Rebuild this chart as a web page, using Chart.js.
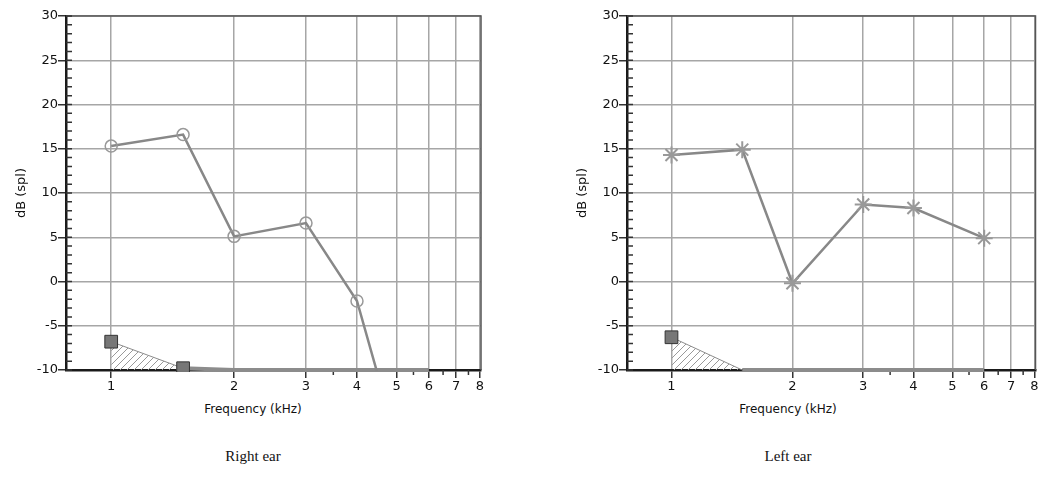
<!DOCTYPE html>
<html>
<head>
<meta charset="utf-8">
<script src="https://cdn.jsdelivr.net/npm/chart.js@4"></script>
<style>
  body { margin: 0; background: #fff; width: 1046px; height: 477px; overflow: hidden; position: relative; }
  .panel { position: absolute; top: 0; height: 400px; }
  .xtitle { position: absolute; top: 402px; font: 12px "DejaVu Sans", sans-serif; color: #111; transform: translateX(-50%); white-space: nowrap; }
  .caption { position: absolute; top: 448px; font: 15px "Liberation Serif", serif; color: #111; transform: translateX(-50%); white-space: nowrap; }
</style>
</head>
<body>
<div class="panel" style="left:0;width:500px"><canvas id="rightChart"></canvas></div>
<div class="panel" style="left:561px;width:485px"><canvas id="leftChart"></canvas></div>
<div class="xtitle" style="left:253px">Frequency (kHz)</div>
<div class="xtitle" style="left:788px">Frequency (kHz)</div>
<div class="caption" style="left:253px">Right ear</div>
<div class="caption" style="left:788px">Left ear</div>
<script>
var freqs = [1, 1.5, 2, 3, 4, 6];
var rightEar = [15.3, 16.6, 5.1, 6.6, -2.2, -31];
var leftEar = [14.3, 14.9, -0.2, 8.7, 8.3, 4.9];
var rightNoise = [-6.8, -9.8, -10, -10, -10, -10];
var leftNoise = [-6.3, -10, -10, -10, -10, -10];
var xTicks = [1, 2, 3, 4, 5, 6, 7, 8];
var xMinorTicks = [3.5, 5.5, 6.5, 7.5];
var yMin = -10, yMax = 30;

// motif hachuré pour la zone de bruit
function hatch() {
    var c = document.createElement('canvas');
    c.width = 7; c.height = 7;
    var g = c.getContext('2d');
    g.strokeStyle = '#999';
    g.lineWidth = 1;
    g.beginPath();
    g.moveTo(0, 7); g.lineTo(7, 0);
    g.moveTo(-1, 1); g.lineTo(1, -1);
    g.moveTo(6, 8); g.lineTo(8, 6);
    g.stroke();
    return g.createPattern(c, 'repeat');
}

function pts(ys) {
    return freqs.map(function (f, i) { return { x: f, y: ys[i] }; });
}

// bordures haut/droite + petites graduations
var framePlugin = {
    id: 'frame',
    beforeDatasetsDraw: function (chart) {
        var a = chart.chartArea, ctx = chart.ctx;
        var xs = chart.scales.x, ys = chart.scales.y;
        ctx.save();
        ctx.strokeStyle = '#555';
        ctx.lineWidth = 1.5;
        ctx.beginPath();
        ctx.moveTo(a.left, a.top); ctx.lineTo(a.right, a.top); ctx.lineTo(a.right, a.bottom);
        ctx.stroke();
        ctx.strokeStyle = '#333';
        ctx.lineWidth = 1.5;
        ctx.beginPath();
        ys.ticks.forEach(function (t) {
            var y = ys.getPixelForValue(t.value);
            ctx.moveTo(a.left, y); ctx.lineTo(a.left + 6, y);
        });
        xMinorTicks.forEach(function (v) {
            var x = xs.getPixelForValue(v);
            ctx.moveTo(x, a.bottom); ctx.lineTo(x, a.bottom + 5);
        });
        ctx.stroke();
        ctx.restore();
    }
};

function makeChart(id, ear, earStyle, earRadius, noise, noiseRadius, padRight) {
    var ctx = document.getElementById(id).getContext('2d');
    return new Chart(ctx, {
        type: 'scatter',
        data: {
            datasets: [{
                data: pts(noise),
                showLine: true,
                borderColor: '#8c8c8c',
                backgroundColor: hatch(),
                fill: { value: -10 },
                borderWidth: 1,
                segment: {
                    borderWidth: function (c) { return c.p0DataIndex === 0 ? 1 : 4; }
                },
                pointStyle: 'rect',
                pointRadius: noiseRadius,
                pointHoverRadius: noiseRadius,
                pointBackgroundColor: '#777',
                pointBorderColor: '#333',
                pointBorderWidth: 1,
                clip: { left: false, top: false, right: false, bottom: 2 },
                order: 2
            }, {
                data: pts(ear),
                showLine: true,
                borderColor: '#888',
                borderWidth: 2.5,
                pointStyle: earStyle,
                pointRadius: earRadius,
                pointHoverRadius: earRadius,
                pointBackgroundColor: 'rgba(255,255,255,0)',
                pointBorderColor: '#999',
                pointBorderWidth: earStyle === 'star' ? 2 : 1.5,
                clip: 1,
                order: 1
            }]
        },
        options: {
            responsive: true,
            maintainAspectRatio: false,
            animation: false,
            layout: { padding: { top: 16, right: padRight, left: 0, bottom: 0 } },
            plugins: { legend: { display: false }, tooltip: { enabled: false } },
            scales: {
                x: {
                    type: 'logarithmic',
                    min: 0.775,
                    max: 8.05,
                    afterBuildTicks: function (s) {
                        s.ticks = xTicks.map(function (v) { return { value: v }; });
                    },
                    afterFit: function (s) { s.height = 30; },
                    ticks: {
                        autoSkip: false,
                        maxRotation: 0,
                        padding: 1,
                        color: '#111',
                        font: { family: 'DejaVu Sans', size: 13 },
                        callback: function (v) { return String(v); }
                    },
                    grid: { color: '#a6a6a6', lineWidth: 1.5, tickLength: 8, tickColor: '#333' },
                    border: { color: '#1a1a1a', width: 2.5 }
                },
                y: {
                    min: yMin,
                    max: yMax,
                    afterFit: function (s) { s.width = 66; },
                    ticks: {
                        stepSize: 1,
                        autoSkip: false,
                        padding: 0,
                        color: '#111',
                        font: { family: 'DejaVu Sans', size: 13 },
                        callback: function (v) { return v % 5 === 0 ? String(v) : ''; }
                    },
                    grid: {
                        color: function (c) { return c.tick && c.tick.value % 5 === 0 ? '#a6a6a6' : 'rgba(0,0,0,0)'; },
                        tickColor: function (c) { return c.tick && c.tick.value % 5 === 0 ? '#333' : 'rgba(0,0,0,0)'; },
                        lineWidth: 1.5,
                        tickLength: 8
                    },
                    border: { color: '#1a1a1a', width: 2.5 },
                    title: {
                        display: true,
                        text: 'dB (spl)',
                        color: '#111',
                        font: { family: 'DejaVu Sans', size: 13 },
                        padding: { top: 14, bottom: 0 }
                    }
                }
            }
        },
        plugins: [framePlugin]
    });
}

document.addEventListener('DOMContentLoaded', function () {
    makeChart('rightChart', rightEar, 'circle', 6, rightNoise, [9, 9, 0, 0, 0, 0], 19);
    makeChart('leftChart', leftEar, 'star', 8.5, leftNoise, [9, 0, 0, 0, 0, 0], 8);
});
</script>
</body>
</html>
